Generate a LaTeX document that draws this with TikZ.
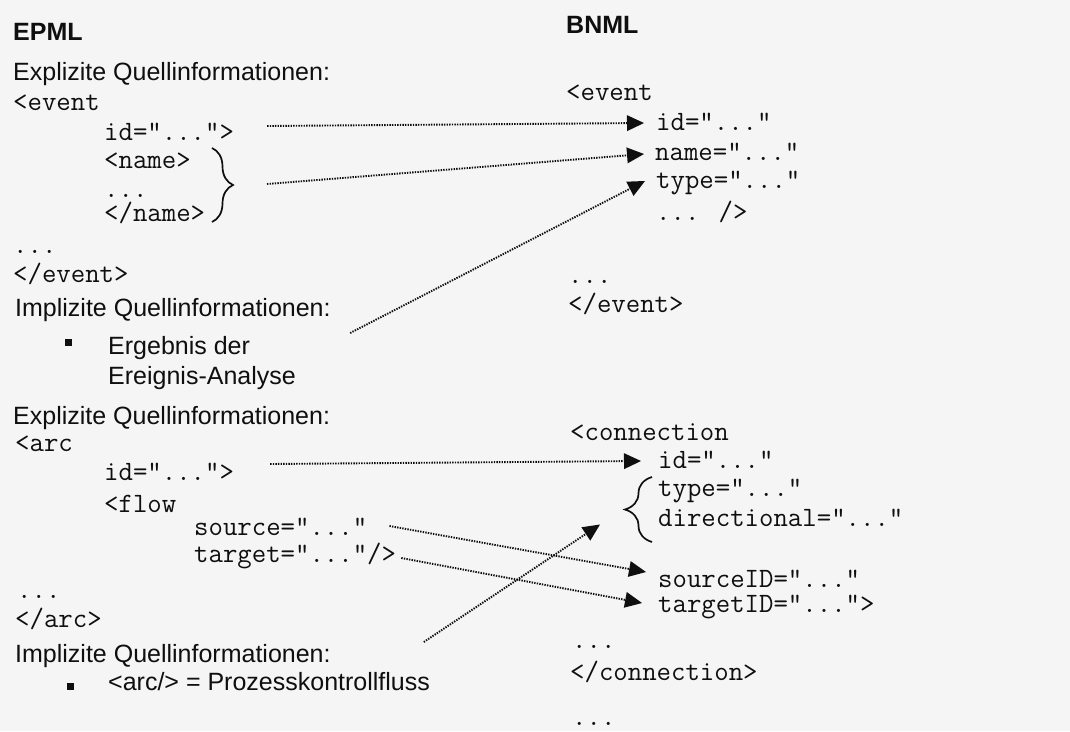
\documentclass[tikz,border=0pt]{standalone}
\usepackage{fontspec}
\setmainfont{Liberation Sans}
\usetikzlibrary{calc,arrows.meta,decorations.pathreplacing}
\definecolor{ink}{gray}{0.06}
\definecolor{paper}{gray}{0.96}
\tikzset{
  sans/.style={anchor=base west, inner sep=0pt, text=ink, font=\fontsize{25}{30}\selectfont},
  head/.style={sans, font=\fontsize{25}{30}\selectfont\bfseries},
  code/.style={anchor=base west, inner sep=0pt, text=ink,
    font=\ttfamily\fontsize{28}{32}\selectfont},
  bul/.style={rectangle, fill=ink, inner sep=0pt, minimum size=7pt},
  link/.style={draw=ink, line width=1.9pt, dash pattern=on 1.4pt off 1.2pt,
    -{Triangle[length=17pt,width=16pt,fill=ink,line width=0pt]}},
  curly/.style={draw=ink, line width=1.7pt, decorate}
}
\begin{document}
\begin{tikzpicture}[x=1pt,y=-1pt]
\useasboundingbox (0,0) rectangle (1070,731);
\fill[paper] (0,0) rectangle (1070,731);

% ---- EPML column ----
\node[head] (epml) at (13,40) {EPML};
\node[sans] (ex1) at (13,80) {Explizite Quellinformationen:};
\node[code] (ev) at (13,110) {<event};
\node[code] (eid) at (104,140) {id="...">};
\node[code] (ename) at (104,168) {<name>};
\node[code] (edots1) at (104,197) {...};
\node[code] (ename2) at (104,221) {</name>};
\node[code] (edots2) at (13,253) {...};
\node[code] (eev2) at (13,282) {</event>};
\node[sans] (im1) at (15,316) {Implizite Quellinformationen:};
\node[bul] (b1) at (68.5,342) {};
\node[sans] (erg1) at (108,354) {Ergebnis der};
\node[sans] (erg2) at (108,384) {Ereignis-Analyse};
\node[sans] (ex2) at (13,424) {Explizite Quellinformationen:};
\node[code] (arc) at (15,451) {<arc};
\node[code] (aid) at (104,480) {id="...">};
\node[code] (flow) at (104,512) {<flow};
\node[code] (src) at (194,535) {source="..."};
\node[code] (tgt) at (194,562) {target="..."/>};
\node[code] (adots) at (17,598) {...};
\node[code] (arc2) at (15,627) {</arc>};
\node[sans] (im2) at (15,662) {Implizite Quellinformationen:};
\node[bul] (b2) at (70,686) {};
\node[sans] (arcp) at (108,690) {<arc/> = Prozesskontrollfluss};

% brace grouping the name element
\draw[curly, decoration={brace, amplitude=21pt}] (212,148) -- (212,222);
\coordinate (lbr) at (233,185);

% ---- BNML column ----
\node[head] (bnml) at (566,33) {BNML};
\node[code] (rev) at (566,100) {<event};
\node[code] (rid) at (656,130) {id="..."};
\node[code] (rname) at (655,160) {name="..."};
\node[code] (rtype) at (656,188) {type="..."};
\node[code] (rend) at (656,220) {... />};
\node[code] (rdots) at (568,283) {...};
\node[code] (rev2) at (568,312) {</event>};
\node[code] (con) at (570,440) {<connection};
\node[code] (cid) at (658,468) {id="..."};
\node[code] (ctype) at (658,496) {type="..."};
\node[code] (cdir) at (658,526) {directional="..."};
\node[code] (csrc) at (658,587) {sourceID="..."};
\node[code] (ctgt) at (658,612) {targetID="...">};
\node[code] (cdots) at (572,648) {...};
\node[code] (con2) at (570,680) {</connection>};
\node[code] (cdots2) at (572,725) {...};

% brace grouping type and directional
\draw[curly, decoration={brace, amplitude=27pt}] (652,542) -- (652,477);
\coordinate (rbr) at (625,509.5);

% ---- mappings ----
\draw[link] ($(eid.base east)+(33,-14)$) -- ($(rid.base west)+(-12,-7)$);
\draw[link] ($(lbr)+(34,-1)$) -- ($(rname.base west)+(-11,-6)$);
\draw[link] ($(erg1.base east)+(100,-21)$) -- ($(rtype.base west)+(-11,-7)$);
\draw[link] ($(aid.base east)+(36,-16)$) -- ($(cid.base west)+(-17,-7)$);
\draw[link] ($(src.base east)+(22,-9)$) -- ($(csrc.base west)+(-12,-15)$);
\draw[link] ($(tgt.base east)+(5,-4)$) -- ($(ctgt.base west)+(-16,-9)$);
\draw[link] ($(im2.base east)+(93,-20)$) -- ($(rbr)+(-25,15)$);
\end{tikzpicture}
\end{document}
